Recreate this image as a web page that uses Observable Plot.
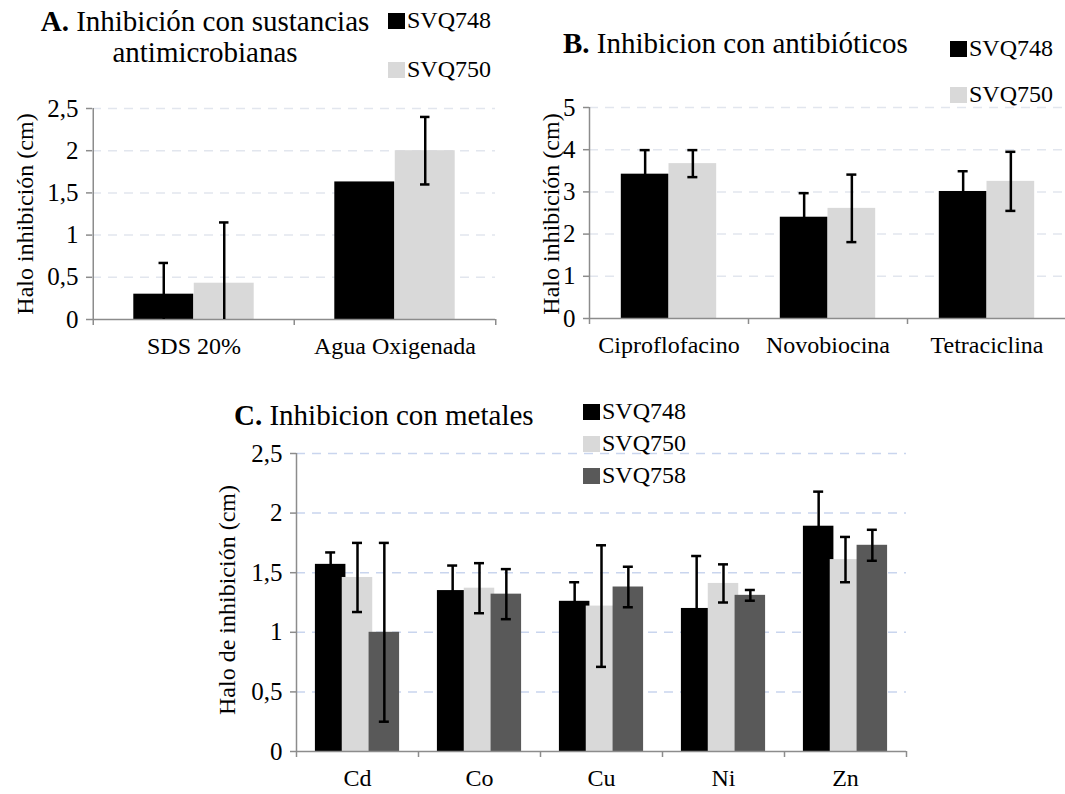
<!DOCTYPE html>
<html>
<head>
<meta charset="utf-8">
<script src="https://cdn.jsdelivr.net/npm/d3@7"></script>
<script src="https://cdn.jsdelivr.net/npm/@observablehq/plot@0.6"></script>
<style>
  body { margin: 0; background: #fff; }
  #fig { position: relative; width: 1065px; height: 794px; font-family: "Liberation Serif", "Times New Roman", serif; color: #000; overflow: hidden; }
  #fig svg { position: absolute; left: 0; top: 0; }
  .title { position: absolute; font-size: 29px; line-height: 31px; white-space: nowrap; }
  .title b { font-weight: bold; }
  .ylab { position: absolute; font-size: 24px; white-space: nowrap; transform: translate(-50%, -50%) rotate(-90deg); }
  .leg { position: absolute; font-size: 24px; line-height: 24px; white-space: nowrap; }
  .leg span.sw { display: inline-block; width: 17px; height: 16px; margin-right: 2px; vertical-align: -1px; }
</style>
</head>
<body>
<div id="fig"></div>
<script>
// Strains and their bar colours
const seriesAB = ["SVQ748", "SVQ750"];
const seriesC = ["SVQ748", "SVQ750", "SVQ758"];
const seriesColors = ["#000000", "#d9d9d9", "#595959"];

// A. Antimicrobial substances (mean halo, cm, and standard deviation)
const catA = ["SDS 20%", "Agua Oxigenada"];
const meanA748 = [0.30, 1.63];
const sdA748 = [0.37, 0];
const meanA750 = [0.43, 2.00];
const sdA750 = [0.72, 0.40];
const ticksA = [0, 0.5, 1, 1.5, 2, 2.5];

// B. Antibiotics
const catB = ["Ciproflofacino", "Novobiocina", "Tetraciclina"];
const meanB748 = [3.42, 2.40, 3.01];
const sdB748 = [0.57, 0.57, 0.48];
const meanB750 = [3.67, 2.61, 3.25];
const sdB750 = [0.32, 0.80, 0.70];
const ticksB = [0, 1, 2, 3, 4, 5];

// C. Metals
const catC = ["Cd", "Co", "Cu", "Ni", "Zn"];
const meanC748 = [1.57, 1.35, 1.26, 1.20, 1.89];
const sdC748 = [0.10, 0.21, 0.16, 0.44, 0.29];
const meanC750 = [1.46, 1.37, 1.22, 1.41, 1.61];
const sdC750 = [0.29, 0.21, 0.51, 0.16, 0.19];
const meanC758 = [1.00, 1.32, 1.38, 1.31, 1.73];
const sdC758 = [0.75, 0.21, 0.17, 0.045, 0.13];
const ticksC = [0, 0.5, 1, 1.5, 2, 2.5];

const W = 1065, H = 794;
const axisColor = "#8c8c8c";
const fmt = d => String(d).replace(".", ",");

// One grouped bar panel: bars per strain within each category band, mean ± sd error bars,
// Excel-style axes (category separators below the x axis, outward y ticks, dashed grid).
function groupedPanel(o) {
  const {cats, series, means, sds, ticks, left, right, top, bottom, barFrac, stepFrac, grid} = o;
  const n = series.length;
  const bw = (right - left) / cats.length;
  const barW = bw * barFrac, step = bw * stepFrac, cap = 10;
  const rows = series.flatMap((s, i) => cats.map((c, j) => ({cat: c, series: s, mean: means[i][j], sd: sds[i][j]})));
  const yMax = ticks[ticks.length - 1];
  const marks = [
    Plot.gridY(ticks.filter(t => t > 0), {stroke: grid, strokeOpacity: 1, strokeWidth: 1.5, strokeDasharray: "9,7"})
  ];
  series.forEach((s, i) => {
    const off = (i - (n - 1) / 2) * step;
    marks.push(Plot.barY(rows.filter(r => r.series === s), {
      x: "cat", y: "mean", fill: "series",
      insetLeft: bw / 2 + off - barW / 2, insetRight: bw / 2 - off - barW / 2
    }));
  });
  marks.push(
    Plot.ruleY([0], {stroke: axisColor, strokeWidth: 1.5}),
    Plot.ruleX([cats[0]], {dx: -bw / 2, y1: 0, y2: yMax, stroke: axisColor, strokeWidth: 1.5}),
    Plot.ruleX(cats, {x: d => d, dx: -bw / 2, y1: 0, y2: 0, insetBottom: -6, stroke: axisColor, strokeWidth: 1.5}),
    Plot.ruleX([cats[cats.length - 1]], {x: d => d, dx: bw / 2, y1: 0, y2: 0, insetBottom: -6, stroke: axisColor, strokeWidth: 1.5})
  );
  series.forEach((s, i) => {
    const off = (i - (n - 1) / 2) * step;
    const data = rows.filter(r => r.series === s && r.sd > 0);
    const capInset = {insetLeft: bw / 2 + off - cap / 2, insetRight: bw / 2 - off - cap / 2};
    marks.push(
      Plot.ruleX(data, {x: "cat", y1: r => Math.max(0, r.mean - r.sd), y2: r => r.mean + r.sd, dx: off, stroke: "#000", strokeWidth: 2.5}),
      Plot.tickY(data, {x: "cat", y: r => r.mean + r.sd, ...capInset, stroke: "#000", strokeWidth: 2.5}),
      Plot.tickY(data.filter(r => r.mean - r.sd > 0), {x: "cat", y: r => r.mean - r.sd, ...capInset, stroke: "#000", strokeWidth: 2.5})
    );
  });
  marks.push(
    Plot.axisY({ticks, tickFormat: fmt, tickSize: 6, tickPadding: 8, label: null, stroke: axisColor, strokeWidth: 1.5, fill: "#000", fontSize: 25}),
    Plot.axisX({tickSize: 0, tickPadding: 17, label: null, fill: "#000", fontSize: 24})
  );
  return Plot.plot({
    width: W, height: H,
    marginLeft: left, marginRight: W - right, marginTop: top, marginBottom: H - bottom,
    style: {background: "transparent", fontFamily: "'Liberation Serif', 'Times New Roman', serif", fontSize: "24px", overflow: "visible"},
    x: {domain: cats, padding: 0, axis: null},
    y: {domain: [0, yMax], axis: null},
    color: {domain: seriesC, range: seriesColors},
    marks
  });
}

const fig = document.getElementById("fig");

fig.append(groupedPanel({
  cats: catA, series: seriesAB, means: [meanA748, meanA750], sds: [sdA748, sdA750], ticks: ticksA,
  left: 92, right: 495, top: 108, bottom: 319, barFrac: 0.3, stepFrac: 0.3, grid: "#e2e6ee"
}));
fig.append(groupedPanel({
  cats: catB, series: seriesAB, means: [meanB748, meanB750], sds: [sdB748, sdB750], ticks: ticksB,
  left: 589, right: 1066, top: 107, bottom: 318, barFrac: 0.3, stepFrac: 0.3, grid: "#e2e6ee"
}));
fig.append(groupedPanel({
  cats: catC, series: seriesC, means: [meanC748, meanC750, meanC758], sds: [sdC748, sdC750, sdC758], ticks: ticksC,
  left: 296, right: 906, top: 453, bottom: 751, barFrac: 0.25, stepFrac: 0.22, grid: "#c9d5ee"
}));

// titles, axis titles and legends
function addHTML(html) { fig.insertAdjacentHTML("beforeend", html); }
addHTML(`<div class="title" style="left:40px;top:6px;width:330px;text-align:center"><b>A.</b> Inhibición con sustancias<br>antimicrobianas</div>`);
addHTML(`<div class="title" style="left:563px;top:28px"><b>B.</b> Inhibicion con antibióticos</div>`);
addHTML(`<div class="title" style="left:234px;top:400px"><b>C.</b> Inhibicion con metales</div>`);

addHTML(`<div class="ylab" style="left:25px;top:214px">Halo inhibición (cm)</div>`);
addHTML(`<div class="ylab" style="left:551px;top:214px">Halo inhibición (cm)</div>`);
addHTML(`<div class="ylab" style="left:227px;top:600px">Halo de inhibición (cm)</div>`);

function legend(series, x, y, gap) {
  series.forEach((s, i) => {
    const c = seriesColors[seriesC.indexOf(s)];
    addHTML(`<div class="leg" style="left:${x}px;top:${y + i * gap}px"><span class="sw" style="background:${c}"></span>${s}</div>`);
  });
}
legend(seriesAB, 388, 8, 49);
legend(seriesAB, 950, 36, 46);
legend(seriesC, 583, 399, 32);
</script>
</body>
</html>
